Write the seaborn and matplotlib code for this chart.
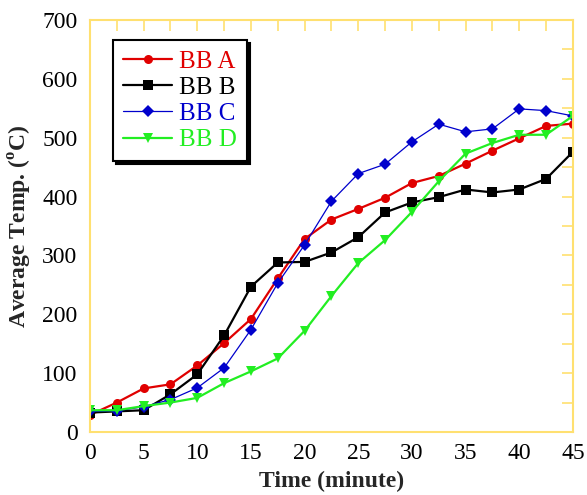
import matplotlib
matplotlib.use("Agg")
import matplotlib.pyplot as plt
import seaborn as sns
import pandas as pd

time = [0, 2.5, 5, 7.5, 10, 12.5, 15, 17.5, 20, 22.5, 25, 27.5, 30, 32.5, 35, 37.5, 40, 42.5, 45]
bb_a = [29, 50, 74, 81, 113, 151, 192, 261, 328, 361, 379, 398, 423, 435, 456, 478, 499, 520, 524]
bb_b = [33, 35, 37, 64, 98, 164, 247, 288, 289, 305, 331, 373, 390, 399, 412, 407, 412, 430, 476]
bb_c = [35, 36, 43, 55, 75, 109, 174, 253, 318, 392, 439, 455, 493, 523, 510, 515, 549, 546, 537]
bb_d = [37, 37, 44, 50, 58, 83, 103, 125, 172, 231, 287, 326, 374, 426, 473, 491, 505, 505, 537]
labels = ["BB A", "BB B", "BB C", "BB D"]

sns.set_style("white")
plt.rcParams['font.family'] = ['Liberation Serif', 'DejaVu Serif']
plt.rcParams['mathtext.fontset'] = 'custom'
plt.rcParams['mathtext.rm'] = 'Liberation Serif:bold'
plt.rcParams['mathtext.bf'] = 'Liberation Serif:bold'

fig = plt.figure(figsize=(5.87, 4.95), dpi=100)
ax = fig.add_axes([0.1533, 0.1273, 0.8227, 0.8323])

series = [
    (bb_a, "#E00000", "o", 1.6, 6.5),
    (bb_b, "#000000", "s", 1.6, 6.5),
    (bb_c, "#0000CC", "D", 0.9, 6.0),
    (bb_d, "#22EE22", "v", 1.6, 7.5),
]
for (vals, col, mk, lw, ms), lab in zip(series, labels):
    df = pd.DataFrame({"t": time, "v": vals})
    sns.lineplot(data=df, x="t", y="v", ax=ax, color=col, marker=mk,
                 linewidth=lw, markersize=ms, markeredgewidth=0,
                 label=lab)

ax.set_xlim(0, 45)
ax.set_ylim(0, 700)
ax.set_xticks(range(0, 46, 5))
ax.set_yticks(range(0, 701, 100))
ax.set_xticks([2.5 + 5 * i for i in range(9)], minor=True)
ax.set_yticks([50 + 100 * i for i in range(7)], minor=True)
spine_col = "#FFE070"
for s in ax.spines.values():
    s.set_color(spine_col)
    s.set_linewidth(1.5)
ax.tick_params(which="both", direction="in", top=True, right=True,
               color=spine_col, width=1.2, labelsize=17, labelcolor="black")
ax.tick_params(which="major", length=8)
ax.tick_params(which="minor", length=8)
ax.tick_params(axis="x", pad=8)
ax.tick_params(axis="y", pad=9)

ax.set_xlabel("Time (minute)", fontsize=17, fontweight="bold", labelpad=5)
ax.set_ylabel(r"Average Temp. ($^{\mathrm{o}}$C)", fontsize=17, fontweight="bold", labelpad=6)

leg = ax.legend(loc="upper left", bbox_to_anchor=(0.048, 0.951), fontsize=18,
                frameon=True, fancybox=False, labelcolor="linecolor",
                shadow={"color": "black", "alpha": 1.0},
                handlelength=1.95, handletextpad=0.3, borderpad=0.4,
                labelspacing=0.15, borderaxespad=0)
leg.get_frame().set_edgecolor("black")
leg.get_frame().set_linewidth(1.5)
leg.get_frame().set_alpha(1)

fig.savefig("out.png", dpi=100)
